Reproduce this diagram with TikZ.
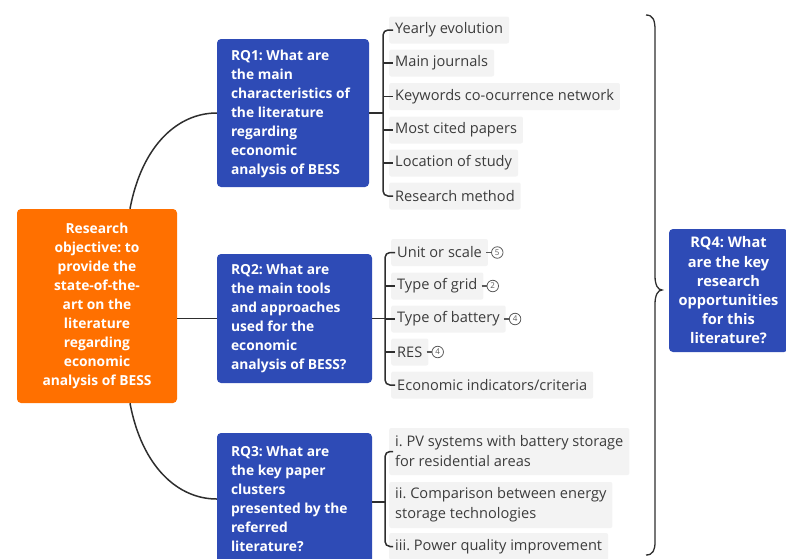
\documentclass[tikz,border=0pt]{standalone}
\usepackage{fontspec}
\setmainfont{Open Sans}
\frenchspacing
\definecolor{obox}{HTML}{FF7000}
\definecolor{bbox}{HTML}{2E4BB6}
\definecolor{itemfill}{HTML}{F3F3F3}
\definecolor{itemtext}{HTML}{3C3C3C}
\definecolor{linec}{HTML}{2E2E2E}
\definecolor{circc}{HTML}{5A5A5A}
\tikzset{
  boxtext/.style={font=\bfseries\fontsize{13.8}{18.9}\selectfont, text=white},
  orangebox/.style={boxtext, fill=obox, rounded corners=4pt, align=center, minimum width=160pt, minimum height=194pt, inner sep=0pt},
  bluebox/.style={fill=bbox, rounded corners=4pt, inner sep=0pt},
  bluetext/.style={boxtext, align=left, inner sep=0pt, anchor=west},
  rqfour/.style={boxtext, font=\bfseries\fontsize{14.6}{19.2}\selectfont, fill=bbox, rounded corners=4pt, align=center, minimum width=119pt, minimum height=123pt, inner sep=0pt},
  itembox/.style={fill=itemfill, rounded corners=2pt, text=itemtext, font=\fontsize{14.6}{20}\selectfont, anchor=west, inner xsep=6pt, minimum height=27pt, align=left},
  conn/.style={draw=linec, line width=1.5pt},
  brk/.style={draw=linec, line width=1.5pt, rounded corners=5pt},
  numcirc/.style={circle, draw=circc, line width=0.8pt, inner sep=0pt, minimum size=11.5pt, text=circc, font=\fontsize{8}{8}\selectfont, anchor=west},
  dashlink/.style={draw=circc, line width=1.3pt}
}
\begin{document}
\begin{tikzpicture}[x=1pt,y=-1pt]
\useasboundingbox (0,0) rectangle (786,558);

% main boxes
\node[orangebox] (obj) at (97,306) {Research\\objective: to\\provide the\\state-of-the-\\art on the\\literature\\regarding\\economic\\analysis of BESS};
\node[bluebox, minimum width=152pt, minimum height=148pt] (rq1) at (293,113) {};
\node[bluetext] (rq1t) at ([xshift=14pt,yshift=-1pt]rq1.west) {RQ1: What are\\the main\\characteristics of\\the literature\\regarding\\economic\\analysis of BESS};
\node[bluebox, minimum width=155pt, minimum height=129pt] (rq2) at (294.5,318.5) {};
\node[bluetext] (rq2t) at ([xshift=14pt]rq2.west) {RQ2: What are\\the main tools\\and approaches\\used for the\\economic\\analysis of BESS?};
\node[bluebox, minimum width=155pt, minimum height=132pt] (rq3) at (294.5,499) {};
\node[bluetext] (rq3t) at ([xshift=14pt]rq3.west) {RQ3: What are\\the key paper\\clusters\\presented by the\\referred\\literature?};
\node[rqfour] (rq4) at (728.5,290.5) {RQ4: What\\are the key\\research\\opportunities\\for this\\literature?};

% connectors from objective
\draw[conn] ([xshift=33pt]obj.north) .. controls (142,145) and (178,113) .. (rq1.west);
\draw[conn] (obj.east |- rq2.west) -- (rq2.west);
\draw[conn] ([xshift=33pt]obj.south) .. controls (142,467) and (178,499) .. (rq3.west);

% RQ1 items
\node[itembox] (a1) at (389,30) {Yearly evolution};
\node[itembox] (a2) at (389,63) {Main journals};
\node[itembox] (a3) at (389,96.5) {Keywords co-ocurrence network};
\node[itembox] (a4) at (389,130) {Most cited papers};
\node[itembox] (a5) at (389,163) {Location of study};
\node[itembox] (a6) at (389,196) {Research method};
\coordinate (b1) at (383,113);
\draw[conn] (rq1.east |- b1) -- (b1);
\draw[brk] ([xshift=4pt]a1.west) -| (b1) |- ([xshift=4pt]a6.west);
\foreach \i in {2,3,4,5}{\draw[conn] (b1 |- a\i.west) -- ([xshift=4pt]a\i.west);}

% RQ2 items
\node[itembox] (c1) at (391,252.5) {Unit or scale};
\node[itembox] (c2) at (391,286) {Type of grid};
\node[itembox] (c3) at (391,319) {Type of battery};
\node[itembox] (c4) at (391,352) {RES};
\node[itembox] (c5) at (391,385) {Economic indicators/criteria};
\coordinate (b2) at (385,318.5);
\draw[conn] (rq2.east |- b2) -- (b2);
\draw[brk] ([xshift=4pt]c1.west) -| (b2) |- ([xshift=4pt]c5.west);
\foreach \i in {2,3,4}{\draw[conn] (b2 |- c\i.west) -- ([xshift=4pt]c\i.west);}
\foreach \i/\n in {1/5,2/2,3/4,4/4}{
  \draw[dashlink] ([xshift=-2pt]c\i.east) -- ++(5,0) coordinate (d\i);
  \node[numcirc] (n\i) at (d\i) {\n};
}

% RQ3 items
\node[itembox, minimum height=47pt] (e1) at (389,451.5) {i. PV systems with battery storage\\for residential areas};
\node[itembox, minimum height=46pt] (e2) at (389,505) {ii. Comparison between energy\\storage technologies};
\node[itembox] (e3) at (389,546.5) {iii. Power quality improvement};
\coordinate (b3) at (385,502);
\draw[conn] (rq3.east |- b3) -- (b3);
\draw[brk] ([xshift=4pt]e1.west) -| (b3) |- ([xshift=4pt]e3.west);

% big brace
\draw[draw=linec, line width=1.3pt] (646,15) .. controls (653,15) and (655,20) .. (655,30) -- (655,276) .. controls (655,285) and (658,290) .. (662,290) .. controls (658,290) and (655,295) .. (655,304) -- (655,542) .. controls (655,550) and (653,555) .. (646,555);
\end{tikzpicture}
\end{document}
